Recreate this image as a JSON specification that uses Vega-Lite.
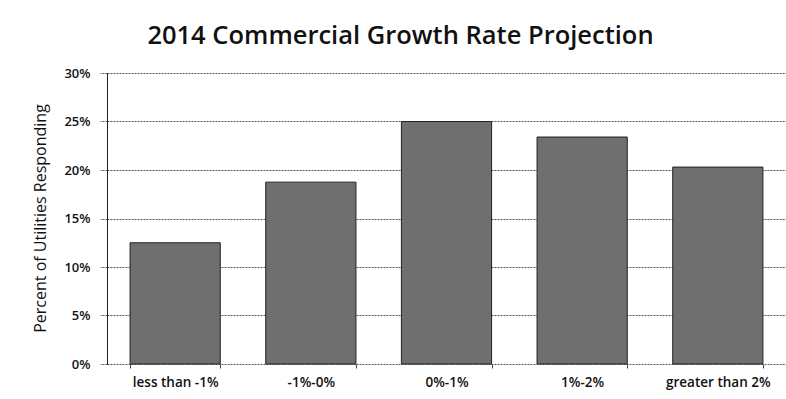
{
  "$schema": "https://vega.github.io/schema/vega-lite/v6.json",
  "width": 679,
  "height": 291,
  "autosize": {"type": "none"},
  "padding": {"left": 107, "top": 73, "right": 0, "bottom": 35},
  "background": "white",
  "title": {
    "text": "2014 Commercial Growth Rate Projection",
    "font": "Open Sans",
    "fontSize": 25.5,
    "fontWeight": 600,
    "color": "#111111",
    "anchor": "middle",
    "dx": -46,
    "offset": 18
  },
  "data": {
    "values": [
      {"category": "less than -1%", "pct": 0.125},
      {"category": "-1%-0%", "pct": 0.1875},
      {"category": "0%-1%", "pct": 0.25},
      {"category": "1%-2%", "pct": 0.234},
      {"category": "greater than 2%", "pct": 0.203}
    ]
  },
  "mark": {"type": "bar", "fill": "#6f6f6f", "stroke": "#222222", "strokeWidth": 1},
  "encoding": {
    "x": {
      "field": "category",
      "type": "nominal",
      "sort": null,
      "scale": {"paddingInner": 0.335, "paddingOuter": 0.17},
      "axis": {
        "title": null,
        "labelAngle": 0,
        "labelFont": "Open Sans",
        "labelFontSize": 13.5,
        "labelFontWeight": 600,
        "labelColor": "#111111",
        "labelPadding": 7,
        "domain": false,
        "tickBand": "extent",
        "tickSize": 4,
        "tickColor": "#444444",
        "grid": false
      }
    },
    "y": {
      "field": "pct",
      "type": "quantitative",
      "scale": {"domain": [0, 0.3]},
      "axis": {
        "title": "Percent of Utilities Responding",
        "titleFont": "Open Sans",
        "titleFontSize": 16,
        "titleFontWeight": 400,
        "titleColor": "#111111",
        "titleAngle": -90,
        "titleX": -67,
        "titleY": 145,
        "titleAlign": "center",
        "titleBaseline": "middle",
        "values": [0, 0.05, 0.1, 0.15, 0.2, 0.25, 0.3],
        "format": ".0%",
        "labelFont": "Open Sans",
        "labelFontSize": 13,
        "labelFontWeight": 600,
        "labelColor": "#111111",
        "labelPadding": 10,
        "tickSize": 7,
        "tickColor": "#555555",
        "tickDash": [2, 1],
        "domain": true,
        "domainColor": "#222222",
        "grid": true,
        "gridColor": "#555555",
        "gridDash": [2, 1],
        "gridWidth": 1
      }
    }
  },
  "config": {"view": {"stroke": null}}
}
